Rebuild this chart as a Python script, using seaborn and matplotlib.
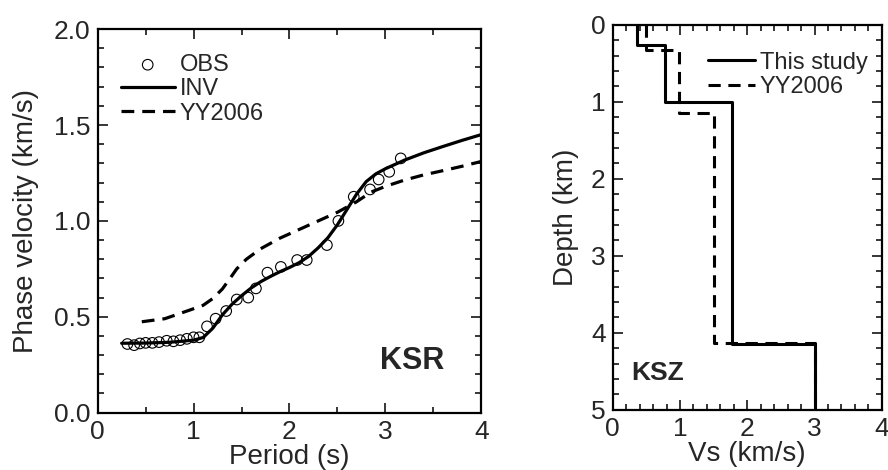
import numpy as np
import pandas as pd
import matplotlib.pyplot as plt
from matplotlib.ticker import MultipleLocator
import seaborn as sns

# observed phase velocities (KSR)
obs_period = [0.31, 0.38, 0.44, 0.50, 0.57, 0.64, 0.72, 0.79, 0.86, 0.93, 1.00, 1.06,
              1.14, 1.23, 1.34, 1.45, 1.57, 1.65, 1.77, 1.91, 2.08, 2.18, 2.39, 2.51,
              2.67, 2.84, 2.93, 3.04, 3.16]
obs_vel = [0.358, 0.352, 0.361, 0.364, 0.364, 0.368, 0.375, 0.372, 0.378, 0.385, 0.393, 0.393,
           0.450, 0.490, 0.530, 0.590, 0.600, 0.648, 0.730, 0.760, 0.796, 0.796, 0.874, 1.000,
           1.126, 1.164, 1.216, 1.256, 1.326]

# inverted model dispersion curve
inv_period = [0.25, 0.5, 0.75, 1.0, 1.1, 1.2, 1.3, 1.4, 1.5, 1.6, 1.7, 1.8, 1.9, 2.0,
              2.1, 2.2, 2.3, 2.4, 2.5, 2.6, 2.7, 2.8, 2.9, 3.0, 3.2, 3.4, 3.6, 3.8, 4.0]
inv_vel = [0.362, 0.363, 0.367, 0.378, 0.392, 0.440, 0.510, 0.565, 0.610, 0.650, 0.683,
           0.710, 0.735, 0.757, 0.782, 0.815, 0.860, 0.912, 0.980, 1.060, 1.140, 1.205,
           1.245, 1.272, 1.317, 1.355, 1.388, 1.420, 1.450]

# YY2006 model dispersion curve
yy_period = [0.46, 0.7, 0.96, 1.1, 1.2, 1.3, 1.38, 1.45, 1.55, 1.7, 1.9, 2.1, 2.3, 2.5,
             2.7, 2.85, 3.0, 3.2, 3.4, 3.6, 3.8, 4.0]
yy_vel = [0.474, 0.490, 0.535, 0.560, 0.595, 0.645, 0.700, 0.750, 0.800, 0.855, 0.910,
          0.955, 1.000, 1.045, 1.100, 1.150, 1.180, 1.213, 1.240, 1.262, 1.285, 1.310]

# Vs profiles (KSZ): layer velocities and layer boundaries (km)
study_vs = [0.36, 0.78, 1.77, 3.0]
study_bounds = [0.0, 0.26, 1.0, 4.15, 5.0]
yy_vs = [0.49, 0.98, 1.50, 3.0]
yy_bounds = [0.0, 0.32, 1.15, 4.13, 5.0]


def step_profile(vs, bounds):
    x, y = [], []
    for i, v in enumerate(vs):
        x += [v, v]
        y += [bounds[i], bounds[i + 1]]
    return pd.DataFrame({"vs": x, "depth": y})


sns.set_theme(style="ticks")
plt.rcParams["font.family"] = ["Liberation Sans", "DejaVu Sans"]
plt.rcParams["axes.linewidth"] = 1.6

fig = plt.figure(figsize=(8.88, 4.70), dpi=100)
ax1 = fig.add_axes([0.110, 0.122, 0.432, 0.816])
ax2 = fig.add_axes([0.690, 0.128, 0.303, 0.819])

dash = (0, (4, 2.5))

sns.scatterplot(x=obs_period, y=obs_vel, ax=ax1, marker="o", s=58,
                facecolor="none", edgecolor="black", linewidth=0.8, label="OBS", zorder=3)
sns.lineplot(x=inv_period, y=inv_vel, ax=ax1, color="black", lw=2.3, label="INV")
sns.lineplot(x=yy_period, y=yy_vel, ax=ax1, color="black", lw=2.3,
             linestyle=dash, label="YY2006")

ax1.set_xlim(0, 4)
ax1.set_ylim(0, 2.0)
ax1.xaxis.set_major_locator(MultipleLocator(1))
ax1.xaxis.set_minor_locator(MultipleLocator(0.5))
ax1.yaxis.set_major_locator(MultipleLocator(0.5))
ax1.yaxis.set_minor_locator(MultipleLocator(0.1))
ax1.yaxis.set_major_formatter(plt.FormatStrFormatter("%.1f"))
ax1.set_xlabel("Period (s)", fontsize=20, labelpad=0)
ax1.set_ylabel("Phase velocity (km/s)", fontsize=20, labelpad=11)
ax1.text(3.28, 0.27, "KSR", fontsize=22, fontweight="bold", ha="center", va="center")
ax1.legend(loc="upper left", bbox_to_anchor=(0.035, 0.96), frameon=False, fontsize=17,
           handlelength=2.3, handletextpad=0.2, labelspacing=0.1, borderaxespad=0)

df_study = step_profile(study_vs, study_bounds)
df_yy = step_profile(yy_vs, yy_bounds)
sns.lineplot(data=df_study, x="vs", y="depth", ax=ax2, sort=False, estimator=None,
             color="black", lw=2.2, label="This study")
sns.lineplot(data=df_yy, x="vs", y="depth", ax=ax2, sort=False, estimator=None,
             color="black", lw=2.2, linestyle=dash, label="YY2006")

ax2.set_xlim(0, 4)
ax2.set_ylim(5, 0)
ax2.xaxis.set_major_locator(MultipleLocator(1))
ax2.xaxis.set_minor_locator(MultipleLocator(0.2))
ax2.yaxis.set_major_locator(MultipleLocator(1))
ax2.yaxis.set_minor_locator(MultipleLocator(0.2))
ax2.set_xlabel("Vs (km/s)", fontsize=20, labelpad=0)
ax2.set_ylabel("Depth (km)", fontsize=20, labelpad=9)
ax2.text(0.28, 4.52, "KSZ", fontsize=19, fontweight="bold", ha="left", va="center")
ax2.legend(loc="upper right", bbox_to_anchor=(0.982, 0.955), frameon=False, fontsize=17,
           handlelength=2.0, handletextpad=0.2, labelspacing=0.1, borderaxespad=0)

for ax in (ax1, ax2):
    ax.tick_params(which="both", direction="in", top=True, right=True,
                   labelsize=19, pad=5, width=1.3)
    ax.tick_params(which="major", length=7)
    ax.tick_params(which="minor", length=4)
    for s in ax.spines.values():
        s.set_visible(True)
        s.set_color("black")

fig.savefig("out.png", dpi=100)
plt.close(fig)
